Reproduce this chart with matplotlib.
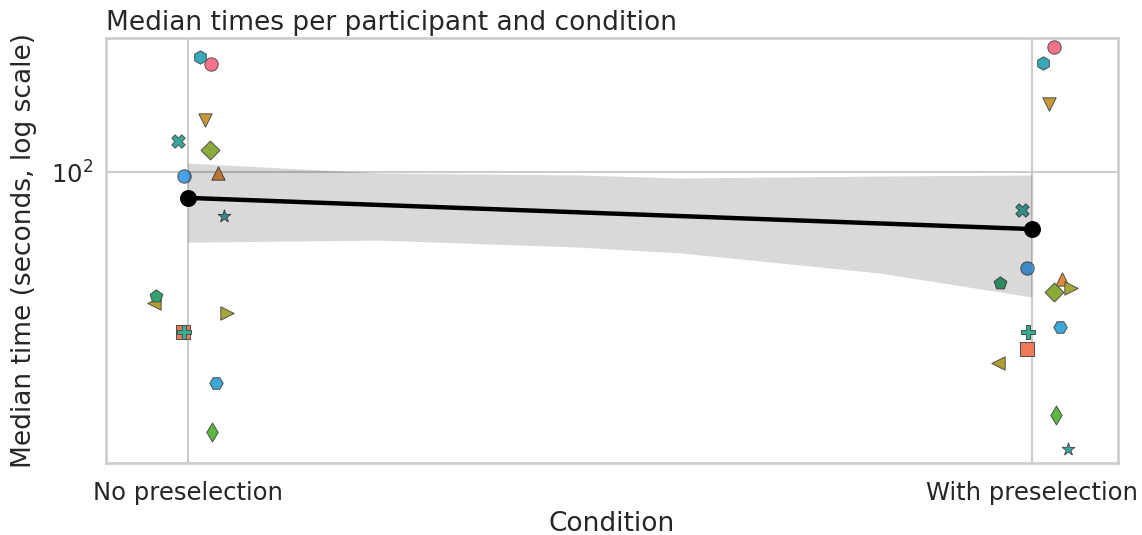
import numpy as np
import matplotlib
matplotlib.use("Agg")
import matplotlib.pyplot as plt
import matplotlib.ticker as mticker
import seaborn as sns

# ---- data (median time in seconds per participant) ----
participants = ["P%02d" % i for i in range(1, 16)]
conditions = ["No preselection", "With preselection"]
time_no = [186.2, 39.8, 99.4, 134.9, 47.1, 44.4, 113.5, 22.4,
           49.0, 40.0, 119.5, 77.6, 193.9, 29.7, 97.7]
time_with = [205.3, 36.1, 54.0, 147.9, 33.3, 51.3, 50.1, 24.8,
             52.8, 40.0, 80.4, 20.4, 187.3, 41.0, 57.5]
# horizontal jitter per participant (condition units)
jitter = [0.027, -0.006, 0.036, 0.020, -0.040, 0.047, 0.026, 0.029,
          -0.037, -0.004, -0.012, 0.043, 0.014, 0.033, -0.005]
markers = ["o", "s", "^", "v", "<", ">", "D", "d",
           "p", "P", "X", "*", "h", "H", "o"]

# 95% CI band of the fit
band_x = [0.0, 0.228, 0.465, 0.583, 0.82, 1.0]
band_lo = [66.9, 67.7, 65.0, 62.9, 56.0, 48.8]
band_hi = [105.5, 99.6, 98.5, 96.8, 97.9, 98.5]

sns.set_style("whitegrid")
plt.rcParams["font.family"] = ["DejaVu Sans"]
plt.rcParams["text.color"] = "0.15"
plt.rcParams["axes.labelcolor"] = "0.15"
plt.rcParams["xtick.color"] = "0.15"
plt.rcParams["ytick.color"] = "0.15"

palette = ["#f77189", "#f07a58", "#e08a38", "#c89a36", "#b19f32",
           "#a6a636", "#8aab38", "#5eb840", "#33a26e", "#34ae90",
           "#36ab9c", "#36aaa8", "#38a9ba", "#3aa8d8", "#48a2e8"]

fig = plt.figure(figsize=(11.42, 5.35), dpi=100)
ax = fig.add_axes([0.0924, 0.1346, 0.8868, 0.7944])

for i, p in enumerate(participants):
    ax.scatter([0 + jitter[i], 1 + jitter[i]], [time_no[i], time_with[i]],
               marker=markers[i], s=92, color=palette[i],
               edgecolor="0.3", linewidth=0.7, zorder=2)

# CI band sits on top of the points (darkens them a bit)
ax.fill_between(band_x, band_lo, band_hi, color="black", alpha=0.15,
                linewidth=0, zorder=3)

means = [np.mean(time_no), np.mean(time_with)]
ax.plot([0, 1], means, color="black", lw=3.2, zorder=4)
ax.scatter([0, 1], means, s=125, color="black", zorder=5)

ax.set_yscale("log")
ax.set_ylim(18.77, 216.7)
ax.set_xlim(-0.0974, 1.1026)
ax.yaxis.set_minor_formatter(mticker.NullFormatter())
ax.set_xticks([0, 1])
ax.set_xticklabels(conditions)
ax.tick_params(axis="x", labelsize=17.5, length=0, pad=13)
ax.tick_params(axis="y", labelsize=17.5, length=0, pad=9)
ax.grid(True, color="#cccccc", lw=1.5)
ax.grid(False, which="minor")
for s in ax.spines.values():
    s.set_color("#cccccc")
    s.set_linewidth(1.9)

ax.set_xlabel("Condition", fontsize=19, labelpad=4)
ax.set_ylabel("Median time (seconds, log scale)", fontsize=19, labelpad=10)
ax.set_title("Median times per participant and condition", loc="left",
             fontsize=19, pad=6)

fig.savefig("out.png", dpi=100)
